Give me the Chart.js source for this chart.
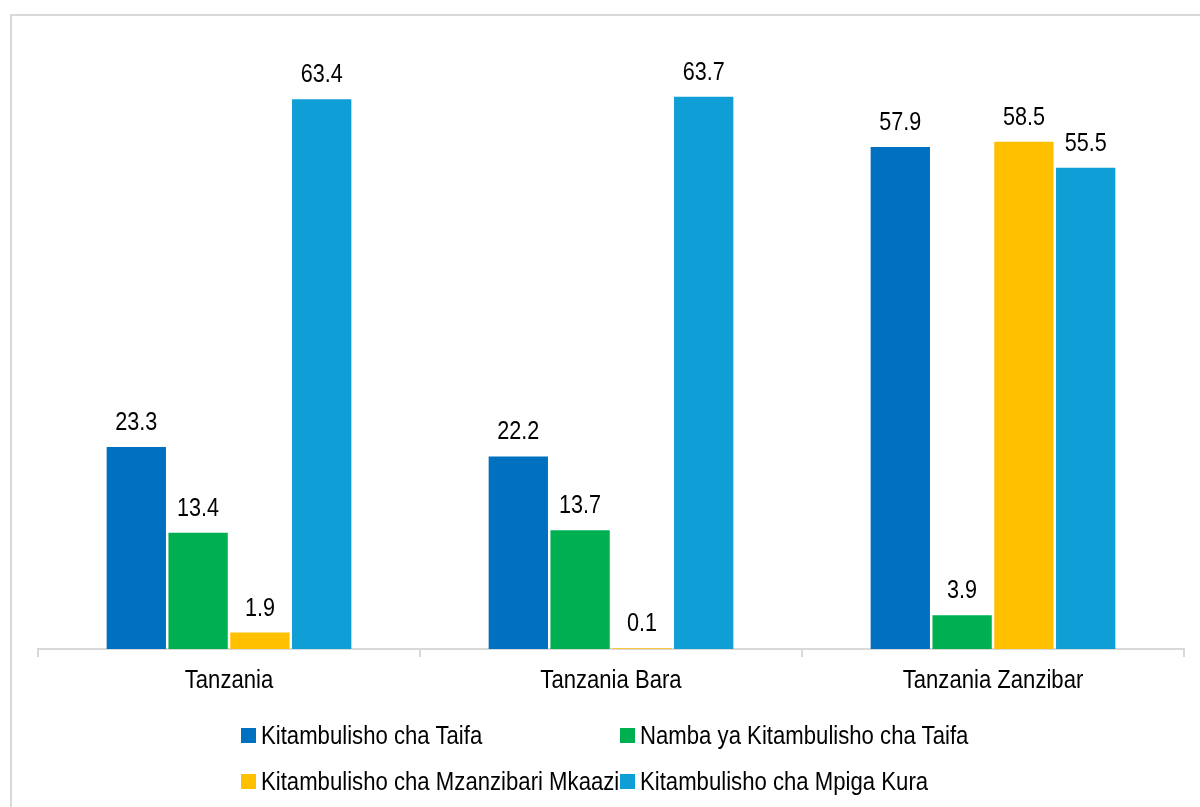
<!DOCTYPE html>
<html>
<head>
<meta charset="utf-8">
<script src="https://cdn.jsdelivr.net/npm/chart.js@4.4.0/dist/chart.umd.min.js"></script>
<style>
  html, body { margin:0; padding:0; background:#fff; }
  body { width:1200px; height:807px; overflow:hidden; position:relative; font-family:"Liberation Sans",Arial,sans-serif; }
  #frame { position:absolute; left:10px; top:14px; width:1200px; height:820px; border:2px solid #d9d9d9; box-sizing:border-box; }
  #wrap { position:absolute; left:0; top:0; width:1200px; height:807px; }
  .leg { position:absolute; font-size:26px; color:#000; line-height:30px; white-space:nowrap; }
  .leg i { display:inline-block; width:15px; height:15px; margin-right:5px; vertical-align:middle; position:relative; top:-2px; }
  .leg span { display:inline-block; transform:scaleX(0.852); transform-origin:left center; }
</style>
</head>
<body>
<div id="frame"></div>
<div id="wrap"><canvas id="chart" width="1200" height="807"></canvas></div>
<div id="legend"></div>
<script>
// categories and series
const categories = ["Tanzania", "Tanzania Bara", "Tanzania Zanzibar"];
const seriesNames = [
  "Kitambulisho cha Taifa",
  "Namba ya Kitambulisho cha Taifa",
  "Kitambulisho cha Mzanzibari Mkaazi",
  "Kitambulisho cha Mpiga Kura"
];
const kitambulishoTaifa = [23.3, 22.2, 57.9];
const nambaTaifa = [13.4, 13.7, 3.9];
const mzanzibariMkaazi = [1.9, 0.1, 58.5];
const mpigaKura = [63.4, 63.7, 55.5];
const colors = ["#0070C0", "#00B050", "#FFC000", "#109ED6"];

const fontFam = '"Liberation Sans",Arial,sans-serif';

// legend built by hand so it sits in two columns
const legendPos = [[241, 735], [620, 735], [241, 781], [620, 781]];
const legendEl = document.getElementById("legend");
seriesNames.forEach((name, i) => {
  const d = document.createElement("div");
  d.className = "leg";
  d.style.left = legendPos[i][0] + "px";
  d.style.top = (legendPos[i][1] - 15) + "px";
  d.innerHTML = `<i style="background:${colors[i]}"></i><span>${name}</span>`;
  legendEl.appendChild(d);
});

// the original uses a narrow face, so squeeze the text a bit
function narrowText(ctx, txt, x, y, sx) {
  ctx.save();
  ctx.translate(x, y);
  ctx.scale(sx, 1);
  ctx.fillText(txt, 0, 0);
  ctx.restore();
}

// value labels above bars + category labels under axis
const labelsPlugin = {
  id: "labelsPlugin",
  afterDatasetsDraw(chart) {
    const ctx = chart.ctx;
    ctx.save();
    ctx.fillStyle = "#000";
    ctx.textAlign = "center";
    ctx.textBaseline = "alphabetic";
    ctx.font = "26px " + fontFam;
    chart.data.datasets.forEach((ds, i) => {
      chart.getDatasetMeta(i).data.forEach((bar, j) => {
        narrowText(ctx, ds.data[j].toFixed(1), bar.x, bar.y - 17, 0.83);
      });
    });
    ctx.font = "26px " + fontFam;
    const xs = chart.scales.x;
    categories.forEach((c, i) => {
      narrowText(ctx, c, xs.getPixelForValue(i), 688, 0.85);
    });
    ctx.restore();
  }
};

const allSeries = [kitambulishoTaifa, nambaTaifa, mzanzibariMkaazi, mpigaKura];

new Chart(document.getElementById("chart").getContext("2d"), {
  type: "bar",
  data: {
    labels: categories,
    datasets: allSeries.map((vals, i) => ({
      label: seriesNames[i],
      data: vals,
      backgroundColor: colors[i],
      borderWidth: 0,
      categoryPercentage: 0.647,
      barPercentage: 0.96
    }))
  },
  options: {
    responsive: false,
    animation: false,
    layout: { padding: { left: 38, right: 16, top: 42, bottom: 150 } },
    plugins: {
      legend: { display: false },
      tooltip: { enabled: false }
    },
    scales: {
      y: { display: false, min: 0, max: 70 },
      x: {
        grid: { drawOnChartArea: false, drawTicks: true, tickLength: 8, color: "#d9d9d9", lineWidth: 2 },
        border: { display: true, color: "#d9d9d9", width: 2 },
        ticks: { display: false }
      }
    }
  },
  plugins: [labelsPlugin]
});
</script>
</body>
</html>
